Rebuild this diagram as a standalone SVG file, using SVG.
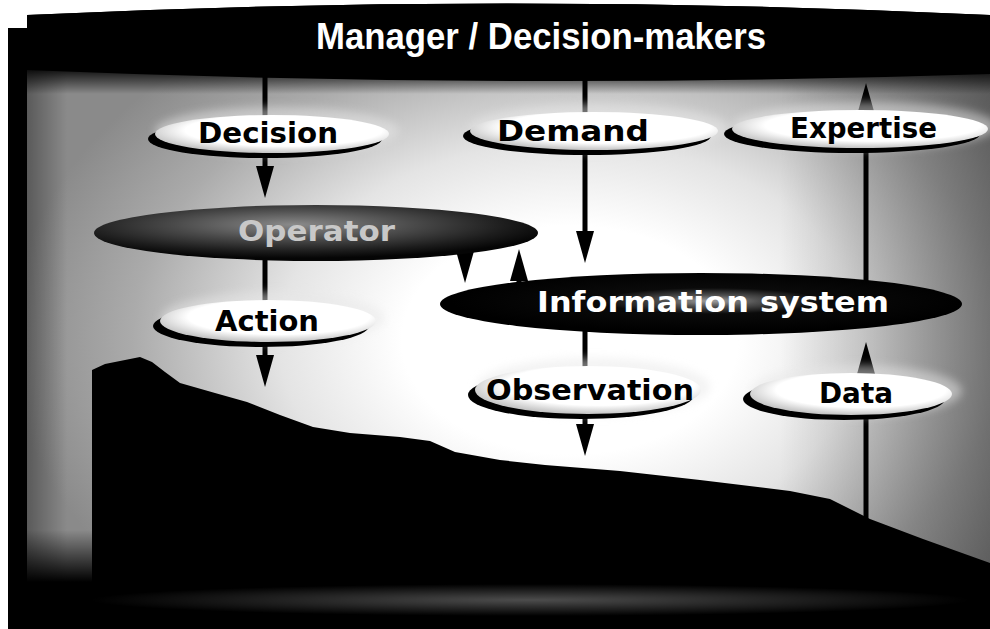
<svg xmlns="http://www.w3.org/2000/svg" width="990" height="629" viewBox="0 0 990 629">
<defs>
  <radialGradient id="sky" gradientUnits="userSpaceOnUse" cx="570" cy="340" r="560" gradientTransform="translate(570 340) scale(1 0.68) translate(-570 -340)">
    <stop offset="0" stop-color="#ffffff"/>
    <stop offset="0.3" stop-color="#ffffff"/>
    <stop offset="0.52" stop-color="#e4e4e4"/>
    <stop offset="0.78" stop-color="#ababab"/>
    <stop offset="1" stop-color="#8a8a8a"/>
  </radialGradient>
  <linearGradient id="rightDark" x1="0" y1="0" x2="1" y2="0">
    <stop offset="0" stop-color="#000" stop-opacity="0"/>
    <stop offset="1" stop-color="#000" stop-opacity="0.35"/>
  </linearGradient>
  <linearGradient id="fadeDown" x1="0" y1="0" x2="0" y2="1">
    <stop offset="0" stop-color="#000" stop-opacity="1"/>
    <stop offset="1" stop-color="#000" stop-opacity="0"/>
  </linearGradient>
  <linearGradient id="fadeUp" x1="0" y1="0" x2="0" y2="1">
    <stop offset="0" stop-color="#000" stop-opacity="0"/>
    <stop offset="1" stop-color="#000" stop-opacity="1"/>
  </linearGradient>
  <linearGradient id="leftDark" x1="0" y1="0" x2="1" y2="0">
    <stop offset="0" stop-color="#000" stop-opacity="0.35"/>
    <stop offset="1" stop-color="#000" stop-opacity="0"/>
  </linearGradient>
  <radialGradient id="band" cx="0.5" cy="0.5" r="0.5">
    <stop offset="0" stop-color="#ffffff" stop-opacity="0.3"/>
    <stop offset="0.6" stop-color="#ffffff" stop-opacity="0.12"/>
    <stop offset="1" stop-color="#ffffff" stop-opacity="0"/>
  </radialGradient>
  <radialGradient id="pill" cx="0.55" cy="0.4" r="0.6">
    <stop offset="0" stop-color="#ffffff"/>
    <stop offset="0.7" stop-color="#ffffff"/>
    <stop offset="1" stop-color="#c4c4c4"/>
  </radialGradient>
  <radialGradient id="op" cx="0.45" cy="0.35" r="0.6">
    <stop offset="0" stop-color="#8a8a8a"/>
    <stop offset="0.45" stop-color="#4a4a4a"/>
    <stop offset="0.8" stop-color="#1c1c1c"/>
    <stop offset="1" stop-color="#050505"/>
  </radialGradient>
  <radialGradient id="info" cx="0.52" cy="0.45" r="0.5">
    <stop offset="0" stop-color="#a0a0a0"/>
    <stop offset="0.18" stop-color="#505050"/>
    <stop offset="0.42" stop-color="#0a0a0a"/>
    <stop offset="1" stop-color="#000000"/>
  </radialGradient>
  <filter id="blur" x="-20%" y="-50%" width="140%" height="200%">
    <feGaussianBlur stdDeviation="4"/>
  </filter>
  <marker id="arrow" viewBox="0 0 32 18" refX="1" refY="9" markerWidth="32" markerHeight="18" markerUnits="userSpaceOnUse" orient="auto">
    <path d="M0,0 L32,9 L0,18 Z" fill="#000"/>
  </marker>
  <style>
    .conn { stroke:#000; stroke-width:5; fill:none; }
    .lbl { font-family:"DejaVu Sans","Liberation Sans",sans-serif; font-weight:bold; font-size:28px; fill:#000; }
    .lblw { font-family:"DejaVu Sans","Liberation Sans",sans-serif; font-weight:bold; font-size:29px; fill:#fff; }
    .halo { fill:#e8e8e8; opacity:0.5; filter:url(#blur); }
    .shadow { fill:#000; }
    .face { fill:url(#pill); }
  </style>
</defs>

<!-- frame and scene -->
<g id="scene">
  <path d="M8,28 L27,28 L27,15 Q505,-8 990,15 L990,618 L985,618 L985,629 L8,629 Z" fill="#000"/>
  <rect x="27" y="62" width="963" height="520" fill="url(#sky)"/>
  <rect x="780" y="62" width="210" height="520" fill="url(#rightDark)"/>
  <rect x="27" y="62" width="40" height="520" fill="url(#leftDark)"/>
  <rect x="27" y="530" width="70" height="52" fill="url(#fadeUp)"/>
  <rect x="27" y="66" width="963" height="28" fill="url(#fadeDown)"/>
  <path d="M27,15 Q505,-8 990,15 L990,74 Q505,90 27,70 Z" fill="#000"/>
  <path d="M92,629 L92,370 L105,364 L125,360 L140,357 L152,362 L165,372 L180,383 L215,393 L247,402 L280,415 L313,427 L350,433 L400,437 L430,441 L455,452 L500,460 L545,465 L620,471 L700,480 L790,491 L830,499 L870,519 L923,539 L990,563 L990,629 Z" fill="#000"/>
  <ellipse cx="530" cy="600" rx="440" ry="16" fill="url(#band)"/>
</g>

<!-- connectors -->
<g id="connectors">
  <line class="conn" x1="265" y1="70" x2="265" y2="167" marker-end="url(#arrow)"/>
  <line class="conn" x1="265" y1="255" x2="265" y2="356" marker-end="url(#arrow)"/>
  <line class="conn" x1="585" y1="70" x2="585" y2="232" marker-end="url(#arrow)"/>
  <line class="conn" x1="585" y1="330" x2="585" y2="425" marker-end="url(#arrow)"/>
  <line class="conn" x1="866" y1="525" x2="866" y2="373" marker-end="url(#arrow)"/>
  <line class="conn" x1="866" y1="282" x2="866" y2="114" marker-end="url(#arrow)"/>
  <line class="conn" x1="465" y1="248" x2="465" y2="252" marker-end="url(#arrow)"/>
  <line class="conn" x1="519" y1="285" x2="519" y2="280" marker-end="url(#arrow)"/>
</g>

<!-- nodes -->
<g id="manager">
  <text x="316" y="49" font-family="'Liberation Sans',Arial,sans-serif" font-weight="bold" font-size="36" fill="#fff" textLength="450" lengthAdjust="spacingAndGlyphs">Manager / Decision-makers</text>
</g>

<g id="decision">
  <ellipse class="halo" cx="277" cy="131" rx="122" ry="24"/>
  <ellipse class="shadow" cx="265" cy="139" rx="117" ry="19"/>
  <ellipse class="face" cx="272" cy="134" rx="117" ry="19"/>
  <text class="lbl" x="198" y="143" textLength="140" lengthAdjust="spacingAndGlyphs">Decision</text>
</g>

<g id="demand">
  <ellipse class="halo" cx="599" cy="128" rx="129" ry="24"/>
  <ellipse class="shadow" cx="587" cy="136" rx="124" ry="19"/>
  <ellipse class="face" cx="594" cy="131" rx="124" ry="19"/>
  <text class="lbl" x="497" y="141" textLength="152" lengthAdjust="spacingAndGlyphs">Demand</text>
</g>

<g id="expertise">
  <ellipse class="halo" cx="865" cy="126" rx="132" ry="24"/>
  <ellipse class="shadow" cx="852" cy="134" rx="128" ry="19"/>
  <ellipse class="face" cx="860" cy="129" rx="128" ry="19"/>
  <text class="lbl" x="790" y="138" textLength="147" lengthAdjust="spacingAndGlyphs">Expertise</text>
</g>

<g id="operator">
  <ellipse cx="316" cy="233" rx="222" ry="28" fill="url(#op)"/>
  <text class="lblw" x="238" y="241" font-size="28" style="fill:#c8c8c8" textLength="157" lengthAdjust="spacingAndGlyphs">Operator</text>
</g>

<g id="infosystem">
  <ellipse cx="701" cy="304" rx="261" ry="31" fill="url(#info)"/>
  <text class="lblw" x="537" y="312" textLength="352" lengthAdjust="spacingAndGlyphs">Information system</text>
</g>

<g id="action">
  <ellipse class="halo" cx="273" cy="318" rx="112" ry="26"/>
  <ellipse class="shadow" cx="261" cy="326" rx="108" ry="21"/>
  <ellipse class="face" cx="268" cy="321" rx="108" ry="21"/>
  <text class="lbl" x="215" y="331" textLength="104" lengthAdjust="spacingAndGlyphs">Action</text>
</g>

<g id="observation">
  <ellipse class="halo" cx="593" cy="387" rx="117" ry="29"/>
  <ellipse class="shadow" cx="581" cy="395" rx="113" ry="24"/>
  <ellipse class="face" cx="588" cy="390" rx="113" ry="24"/>
  <text class="lbl" x="486" y="400" textLength="208" lengthAdjust="spacingAndGlyphs">Observation</text>
</g>

<g id="data">
  <ellipse class="halo" cx="856" cy="391" rx="106" ry="26"/>
  <ellipse class="shadow" cx="844" cy="399" rx="101" ry="21"/>
  <ellipse class="face" cx="851" cy="394" rx="101" ry="21"/>
  <text class="lbl" x="819" y="403" textLength="74" lengthAdjust="spacingAndGlyphs">Data</text>
</g>
</svg>
